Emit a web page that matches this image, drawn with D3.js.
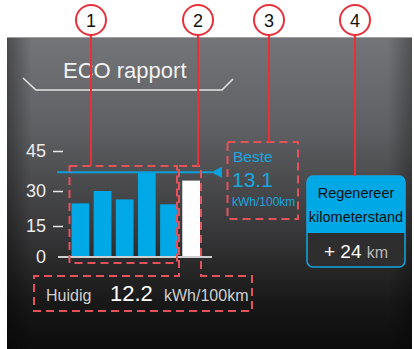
<!DOCTYPE html>
<html>
<head>
<meta charset="utf-8">
<script src="https://cdn.jsdelivr.net/npm/d3@7"></script>
<style>
  html, body { margin: 0; padding: 0; background: #fff; }
  svg { display: block; font-family: "Liberation Sans", Arial, Helvetica, sans-serif; }
</style>
</head>
<body>
<svg id="chart" width="414" height="349"></svg>
<script>
// Consumption history (kWh/100km), last one is the current trip
const periods = ["p1", "p2", "p3", "p4", "p5", "nu"];
const consumption = [24.7, 30, 26.4, 37, 24.3, 33.9];
const bestLevel = 37;
const yTicks = [0, 15, 30, 45];

const title = "ECO rapport";
const bestLabel = "Beste";
const bestValue = "13.1";
const unit = "kWh/100km";
const currentLabel = "Huidig";
const currentValue = "12.2";
const regenLines = ["Regenereer", "kilometerstand"];
const regenValue = "+ 24";
const regenUnit = "km";
const callouts = [
  { n: "1", x: 91, yEnd: 166 },
  { n: "2", x: 198, yEnd: 166 },
  { n: "3", x: 269, yEnd: 142 },
  { n: "4", x: 355, yEnd: 176 }
];

const svg = d3.select("#chart");
const defs = svg.append("defs");

// dark display panel
const g1 = defs.append("linearGradient").attr("id", "panel").attr("x1", 0).attr("y1", 0).attr("x2", 0).attr("y2", 1);
g1.append("stop").attr("offset", "0%").attr("stop-color", "#747579");
g1.append("stop").attr("offset", "30%").attr("stop-color", "#5e5f62");
g1.append("stop").attr("offset", "62%").attr("stop-color", "#38383a");
g1.append("stop").attr("offset", "85%").attr("stop-color", "#181818");
g1.append("stop").attr("offset", "100%").attr("stop-color", "#0c0c0c");

const g2 = defs.append("linearGradient").attr("id", "edge").attr("x1", 0).attr("y1", 0).attr("x2", 1).attr("y2", 0);
g2.append("stop").attr("offset", "0%").attr("stop-color", "#000").attr("stop-opacity", 0.35);
g2.append("stop").attr("offset", "6%").attr("stop-color", "#000").attr("stop-opacity", 0);
g2.append("stop").attr("offset", "94%").attr("stop-color", "#000").attr("stop-opacity", 0);
g2.append("stop").attr("offset", "100%").attr("stop-color", "#000").attr("stop-opacity", 0.3);

svg.append("rect").attr("x", 7).attr("y", 37).attr("width", 405).attr("height", 312).attr("fill", "url(#panel)");
svg.append("rect").attr("x", 7).attr("y", 37).attr("width", 405).attr("height", 312).attr("fill", "url(#edge)");
svg.append("line").attr("x1", 7).attr("x2", 412).attr("y1", 37.5).attr("y2", 37.5).attr("stroke", "#a0a0a2").attr("stroke-width", 1);

// title with bracket underline
svg.append("text").attr("x", 63).attr("y", 78).attr("fill", "#f2f2f2").attr("font-size", 22).text(title);
svg.append("path").attr("d", "M23,78 L36,90 L222,90 L233,79")
  .attr("fill", "none").attr("stroke", "#e6e6e6").attr("stroke-width", 1.5);

// scales
const y = d3.scaleLinear().domain([0, 15, 30, 45]).range([257, 226, 191, 151]);
const x = d3.scaleBand().domain(periods).range([71.5, 200]).paddingInner(0.2).paddingOuter(0);

// y axis
const axis = svg.append("g").attr("transform", "translate(63,0)")
  .call(d3.axisLeft(y).tickValues(yTicks).tickSize(10).tickPadding(7));
axis.select(".domain").remove();
axis.selectAll(".tick line").attr("stroke", "#e6e6e6").attr("stroke-width", 1.5)
  .attr("display", d => d === 0 ? "none" : null);
axis.selectAll(".tick text").attr("fill", "#ececec").attr("font-size", 18)
  .attr("font-family", "'Liberation Sans', Arial, sans-serif");

// bars
svg.append("g").selectAll("rect").data(periods).join("rect")
  .attr("x", d => x(d))
  .attr("width", x.bandwidth())
  .attr("y", (d, i) => y(consumption[i]))
  .attr("height", (d, i) => y(0) - y(consumption[i]))
  .attr("fill", (d, i) => i === periods.length - 1 ? "#ffffff" : "#00a8e6");

// baseline
svg.append("line").attr("x1", 58).attr("x2", 212).attr("y1", y(0)).attr("y2", y(0))
  .attr("stroke", "#cfcfcf").attr("stroke-width", 2);

// best-level marker
const by = y(bestLevel);
svg.append("line").attr("x1", 57).attr("x2", 212).attr("y1", by).attr("y2", by)
  .attr("stroke", "#0aa0dc").attr("stroke-width", 2);
svg.append("path").attr("d", `M211,${by} L222,${by - 5.5} L222,${by + 5.5} Z`).attr("fill", "#0aa0dc");

// dashed callout frames
const dash = sel => sel.attr("fill", "none").attr("stroke", "#e4525c").attr("stroke-width", 2)
  .attr("stroke-dasharray", "8,5");
svg.append("rect").attr("x", 69.5).attr("y", 166).attr("width", 107.5).attr("height", 97).call(dash);
svg.append("path").attr("d", "M179,166 H201 V276 H252 V311 H34 V276 H179 Z").call(dash);
svg.append("rect").attr("x", 227.5).attr("y", 142).attr("width", 70.5).attr("height", 77).call(dash);

// best value
svg.append("text").attr("x", 233).attr("y", 162).attr("fill", "#18a6e0").attr("font-size", 15.5).text(bestLabel);
svg.append("text").attr("x", 232).attr("y", 187).attr("fill", "#18a6e0").attr("font-size", 21).text(bestValue);
svg.append("text").attr("x", 232).attr("y", 206).attr("fill", "#18a6e0").attr("font-size", 12).text(unit);

// current value
svg.append("text").attr("x", 46).attr("y", 301).attr("fill", "#d0d0d0").attr("font-size", 16).text(currentLabel);
svg.append("text").attr("x", 110).attr("y", 301).attr("fill", "#ffffff").attr("font-size", 22).text(currentValue);
svg.append("text").attr("x", 164).attr("y", 301).attr("fill", "#d0d0d0").attr("font-size", 16).text(unit);

// regeneration box
defs.append("clipPath").attr("id", "regenClip").append("rect")
  .attr("x", 307).attr("y", 176).attr("width", 98).attr("height", 91).attr("rx", 6);
svg.append("rect").attr("x", 307).attr("y", 176).attr("width", 98).attr("height", 91).attr("rx", 6)
  .attr("fill", "#2e2e2f");
svg.append("rect").attr("x", 307).attr("y", 176).attr("width", 98).attr("height", 57)
  .attr("fill", "#00a8e6").attr("clip-path", "url(#regenClip)");
svg.append("rect").attr("x", 307).attr("y", 176).attr("width", 98).attr("height", 91).attr("rx", 6)
  .attr("fill", "none").attr("stroke", "#14a6e2").attr("stroke-width", 1.5);
regenLines.forEach((t, i) => {
  svg.append("text").attr("x", 356).attr("y", 198 + i * 24).attr("text-anchor", "middle")
    .attr("fill", "#0d0d0d").attr("font-size", 14.5).text(t);
});
const rv = svg.append("text").attr("x", 356).attr("y", 258).attr("text-anchor", "middle");
rv.append("tspan").attr("fill", "#ffffff").attr("font-size", 19).text(regenValue + " ");
rv.append("tspan").attr("fill", "#b8b8b8").attr("font-size", 16).text(regenUnit);

// numbered callouts
const co = svg.append("g").selectAll("g").data(callouts).join("g");
co.append("line").attr("x1", d => d.x).attr("x2", d => d.x).attr("y1", 35).attr("y2", d => d.yEnd)
  .attr("stroke", "#e8303a").attr("stroke-width", 2);
co.append("circle").attr("cx", d => d.x).attr("cy", 20).attr("r", 15)
  .attr("fill", "#fff").attr("stroke", "#e8303a").attr("stroke-width", 2);
co.append("text").attr("x", d => d.x).attr("y", 26.5).attr("text-anchor", "middle")
  .attr("font-size", 18).attr("fill", "#111").text(d => d.n);
</script>
</body>
</html>
